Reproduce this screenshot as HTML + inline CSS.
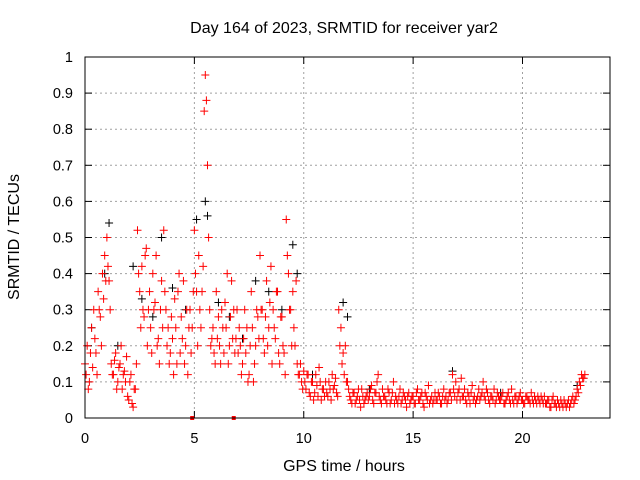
<!DOCTYPE html>
<html><head><meta charset="utf-8"><style>
body{margin:0;background:#fff}
svg{display:block;font-family:"Liberation Sans",sans-serif}
</style></head><body>
<svg id="chart" width="640" height="480">
<rect width="640" height="480" fill="#fff"/>
<text x="344" y="33" font-size="16" text-anchor="middle">Day 164 of 2023, SRMTID for receiver yar2</text>
<text x="344" y="471" font-size="16" text-anchor="middle">GPS time / hours</text>
<text transform="translate(19,237) rotate(-90)" font-size="16" text-anchor="middle">SRMTID / TECUs</text>
<g id="grid"></g><g id="axes"></g><g id="marks"></g>
<rect x="85" y="57" width="525" height="361" fill="none" stroke="#000"/>
</svg>
<script>
const xTicks=[0,5,10,15,20];
const yTicks=[0,0.1,0.2,0.3,0.4,0.5,0.6,0.7,0.8,0.9,1];
const yTickLabels=["0","0.1","0.2","0.3","0.4","0.5","0.6","0.7","0.8","0.9","1"];
const seriesA=[.15,.2,.1,.25,.3,.18,.35,.28,.4,.45,.5,.38,.15,.12,.18,.1,.15,.08,.13,.17,.05,.12,.03,.08,.52,.35,.42,.28,.47,.3,.25,.4,.32,.2,.15,.38,.52,.3,.25,.18,.22,.33,.15,.4,.28,.38,.2,.12,.3,.25,.52,.35,.45,.25,.42,.95,.7,.3,.22,.18,.35,.28,.15,.25,.32,.4,.2,.38,.3,.22,.18,.2,.15,.3,.25,.12,.35,.1,.2,.28,.45,.3,.18,.38,.25,.42,.3,.22,.35,.15,.28,.18,.55,.4,.3,.35,.2,.15,.12,.1,.13,.08,.12,.06,.1,.07,.09,.14,.05,.08,.1,.06,.08,.12,.09,.07,.3,.25,.18,.2,.1,.06,.04,.07,.05,.08,.03,.06,.05,.07,.06,.09,.04,.07,.12,.05,.08,.06,.04,.07,.05,.1,.06,.04,.08,.05,.06,.03,.07,.05,.06,.04,.08,.05,.07,.03,.06,.09,.05,.04,.07,.05,.06,.04,.08,.06,.05,.07,.12,.06,.05,.08,.11,.06,.05,.07,.04,.09,.06,.05,.08,.06,.1,.05,.07,.04,.06,.08,.05,.06,.05,.07,.04,.06,.05,.08,.04,.06,.05,.07,.05,.04,.06,.05,.07,.04,.05,.06,.04,.05,.06,.04,.05,.03,.06,.04,.05,.03,.04,.05,.03,.05,.04,.06,.05,.08,.1,.12,.11];
const seriesB=[.12,.08,.18,.14,.22,.12,.3,.2,.33,.38,.42,.3,.12,.16,.08,.14,.2,.12,.1,.06,.1,.04,.08,.15,.4,.25,.3,.45,.2,.35,.18,.3,.45,.22,.3,.25,.35,.2,.15,.28,.12,.25,.35,.18,.22,.15,.3,.25,.18,.35,.4,.2,.3,.35,.85,.88,.5,.2,.25,.15,.22,.2,.3,.18,.25,.15,.28,.22,.18,.3,.25,.12,.22,.18,.1,.2,.25,.15,.3,.22,.3,.22,.28,.2,.32,.15,.25,.35,.18,.28,.2,.12,.45,.3,.2,.25,.38,.12,.15,.08,.1,.12,.07,.1,.05,.12,.06,.1,.08,.06,.07,.1,.05,.08,.11,.06,.2,.15,.12,.1,.08,.05,.07,.04,.06,.05,.08,.04,.06,.05,.08,.05,.07,.1,.06,.04,.06,.05,.08,.04,.07,.04,.05,.06,.04,.07,.05,.06,.04,.06,.04,.07,.05,.06,.04,.07,.05,.04,.06,.05,.05,.07,.04,.06,.05,.04,.07,.05,.08,.1,.07,.05,.06,.08,.04,.06,.07,.05,.04,.06,.05,.07,.06,.08,.05,.06,.05,.04,.07,.05,.06,.04,.05,.07,.04,.05,.06,.04,.06,.05,.04,.06,.05,.04,.05,.06,.04,.05,.06,.04,.04,.05,.03,.05,.04,.03,.04,.05,.03,.04,.04,.03,.05,.04,.06,.07,.09,.11,.12];
const blackT=[0.3,0.9,1.1,1.5,2.2,2.6,3.1,3.5,4.0,4.6,5.1,5.5,5.6,6.1,6.6,7.2,7.8,8.4,9.0,9.5,9.7,10.4,11.8,12.0,13.0,16.8,19.0,22.5];
const blackV=[.25,.4,.54,.2,.42,.33,.28,.5,.36,.3,.55,.6,.56,.32,.28,.22,.38,.35,.3,.48,.4,.12,.32,.28,.08,.13,.07,.09];
const zeroT=[4.9,6.8];
const X=v=>85+v*525/24, Y=v=>418-v*361;
const NS="http://www.w3.org/2000/svg";
const grid=document.getElementById('grid'),axes=document.getElementById('axes'),marks=document.getElementById('marks');
function mk(tag,attrs,parent){const e=document.createElementNS(NS,tag);for(const k in attrs)e.setAttribute(k,attrs[k]);parent.appendChild(e);return e;}
xTicks.forEach(t=>{const x=X(t);
 if(t>0){const g=mk('line',{x1:x,x2:x,y1:57,y2:418,stroke:'#a0a0a0','stroke-dasharray':'2,3'},grid);
 
 }
 mk('line',{x1:x,x2:x,y1:418,y2:411,stroke:'#000'},axes);mk('line',{x1:x,x2:x,y1:57,y2:64,stroke:'#000'},axes);
 const l=mk('text',{x:x,y:443,'font-size':14.5,'text-anchor':'middle'},axes);l.textContent=t;
 
 });
yTicks.forEach((t,i)=>{const y=Y(t);
 if(t>0&&t<1){const g=mk('line',{x1:85,x2:610,y1:y,y2:y,stroke:'#a0a0a0','stroke-dasharray':'2,3'},grid);
 
 }
 mk('line',{x1:85,x2:92,y1:y,y2:y,stroke:'#000'},axes);mk('line',{x1:603,x2:610,y1:y,y2:y,stroke:'#000'},axes);
 const l=mk('text',{x:73,y:y+5,'font-size':14.5,'text-anchor':'end'},axes);l.textContent=yTickLabels[i];
 
 });
function plus(t,v,c){const x=X(t),y=Y(v);
 const p=mk('path',{d:`M${x-4},${y}h8M${x},${y-4}v8`,stroke:c,'stroke-width':1,fill:'none'},marks);
 
 }
blackT.forEach((t,i)=>plus(t,blackV[i],'#000'));
seriesA.forEach((v,i)=>plus(i*0.1,v,'#f00'));
seriesB.forEach((v,i)=>plus(i*0.1+0.05,v,'#f00'));
zeroT.forEach(t=>{const r=mk('rect',{x:X(t)-2,y:Y(0)-2,width:4,height:4,fill:'#f00'},marks);
 
 });
</script>
</body></html>
